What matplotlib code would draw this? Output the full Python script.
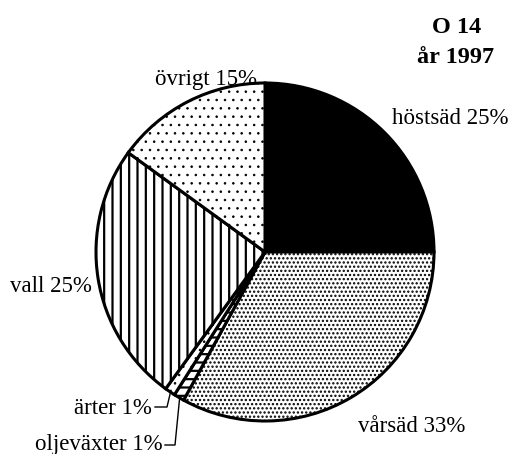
import matplotlib.pyplot as plt
import numpy as np

categories = ['höstsäd', 'vårsäd', 'oljeväxter', 'ärter', 'vall', 'övrigt']
shares = [25, 33, 1, 1, 25, 15]
title_lines = ['O 14', 'år 1997']

W, H = 510, 454
plt.rcParams['font.family'] = ['Liberation Serif', 'DejaVu Serif']
plt.rcParams['hatch.linewidth'] = 0.6

fig = plt.figure(figsize=(W / 100, H / 100), dpi=100)
ax = fig.add_axes([0, 0, 1, 1])

cx, cy, r = 265, H - 252, 169
faces = ['black', 'white', 'white', 'white', 'white', 'white']
hatches = [None, '....', '--', '..', '||', '..']
hatch_lw = [None, 1.1, 1.6, 0.6, 1.6, 0.6]

wedges, _ = ax.pie(shares, startangle=90, counterclock=False, center=(cx, cy),
                   radius=r, colors=faces,
                   wedgeprops=dict(edgecolor='black', linewidth=2.2))
for w, h, lw in zip(wedges, hatches, hatch_lw):
    if h:
        w.set_hatch(h)
        if hasattr(w, 'set_hatch_linewidth'):
            w.set_hatch_linewidth(lw)
        else:
            w._hatch_linewidth = lw

ax.set_xlim(0, W)
ax.set_ylim(0, H)
ax.set_aspect('equal')
ax.axis('off')

def lab(i):
    return f'{categories[i]} {shares[i]}%'

fs = 16.5
# labels (pixel positions of the baseline, y from top)
ax.text(392, H - 124, lab(0), fontsize=fs, ha='left', va='baseline')
ax.text(358, H - 432, lab(1), fontsize=fs, ha='left', va='baseline')
ax.text(163, H - 450, lab(2), fontsize=fs, ha='right', va='baseline')
ax.text(152, H - 414, lab(3), fontsize=fs, ha='right', va='baseline')
ax.text(92, H - 292, lab(4), fontsize=fs, ha='right', va='baseline')
ax.text(155, H - 85, lab(5), fontsize=fs, ha='left', va='baseline')

# leader lines for the small slices
def edge_point(w, k=0.99):
    a = np.deg2rad((w.theta1 + w.theta2) / 2)
    return cx + k * r * np.cos(a), cy + k * r * np.sin(a)

for i, (x0, y0, x1) in zip([2, 3], [(165, 445, 175), (155, 407, 167)]):
    ex, ey = edge_point(wedges[i])
    ax.plot([x0, x1, ex], [H - y0, H - y0, ey], color='black', lw=1)

ax.text(457, H - 33, title_lines[0], fontsize=17.5, fontweight='bold', ha='center', va='baseline')
ax.text(456, H - 63, title_lines[1], fontsize=17.5, fontweight='bold', ha='center', va='baseline')

fig.savefig('out.png', dpi=100)
